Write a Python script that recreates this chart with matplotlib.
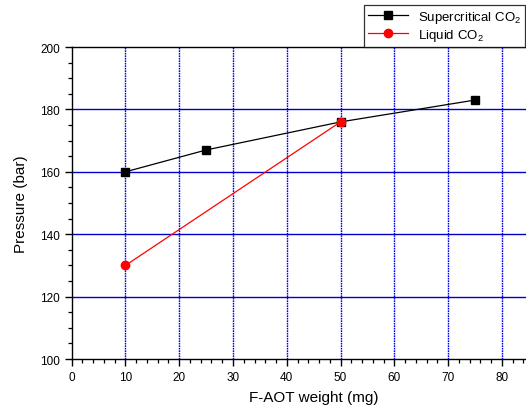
import numpy as np
import matplotlib
matplotlib.use('Agg')
import matplotlib.pyplot as plt
from matplotlib.ticker import MultipleLocator, FixedLocator

plt.rcParams['font.family'] = ['Liberation Sans', 'DejaVu Sans']
plt.rcParams['mathtext.fontset'] = 'custom'
plt.rcParams['mathtext.rm'] = 'Liberation Sans'

# data
sc_weight = [10, 25, 50, 75]
sc_pressure = [160, 167, 176, 183]
liq_weight = [10, 50]
liq_pressure = [130, 176]

fig = plt.figure(figsize=(5.26, 4.14), dpi=100)
ax = fig.add_axes([0.1363, 0.1304, 0.92, 0.7536])

ax.set_xlim(0, 90)
ax.set_ylim(100, 200)

# grid: dotted verticals, solid horizontals, both blue
for xv in range(10, 90, 10):
    ax.axvline(xv, color='#0000ee', lw=1.0, ls=(0, (1.2, 0.6)), zorder=1)
for yv in range(120, 200, 20):
    ax.axhline(yv, color='#0000cc', lw=1.0, zorder=1)

ax.plot(sc_weight, sc_pressure, color='black', lw=0.9, marker='s', ms=6,
        label=r'Supercritical CO$_\mathregular{2}$', zorder=3)
ax.plot(liq_weight, liq_pressure, color='red', lw=0.9, marker='o', ms=6,
        label=r'Liquid CO$_\mathregular{2}$', zorder=3)

ax.xaxis.set_major_locator(FixedLocator(np.arange(0, 81, 10)))
ax.xaxis.set_minor_locator(FixedLocator(np.arange(0, 90, 2)))
ax.yaxis.set_major_locator(MultipleLocator(20))
ax.yaxis.set_minor_locator(MultipleLocator(5))
ax.tick_params(which='major', direction='out', length=5, width=1.0, labelsize=8.5)
ax.tick_params(which='minor', direction='out', length=3, width=0.9)
for s in ax.spines.values():
    s.set_linewidth(1.0)

ax.set_xlabel('F-AOT weight (mg)', fontsize=11, labelpad=5)
ax.set_ylabel('Pressure (bar)', fontsize=11, labelpad=9)

leg = fig.legend(loc='upper left', bbox_to_anchor=(0.692, 0.986), fontsize=9.5,
                 frameon=True, fancybox=False, edgecolor='black',
                 borderpad=0.3, handlelength=3.0, labelspacing=0.15,
                 borderaxespad=0)
leg.get_frame().set_linewidth(0.9)

fig.savefig('out.png', dpi=100)
